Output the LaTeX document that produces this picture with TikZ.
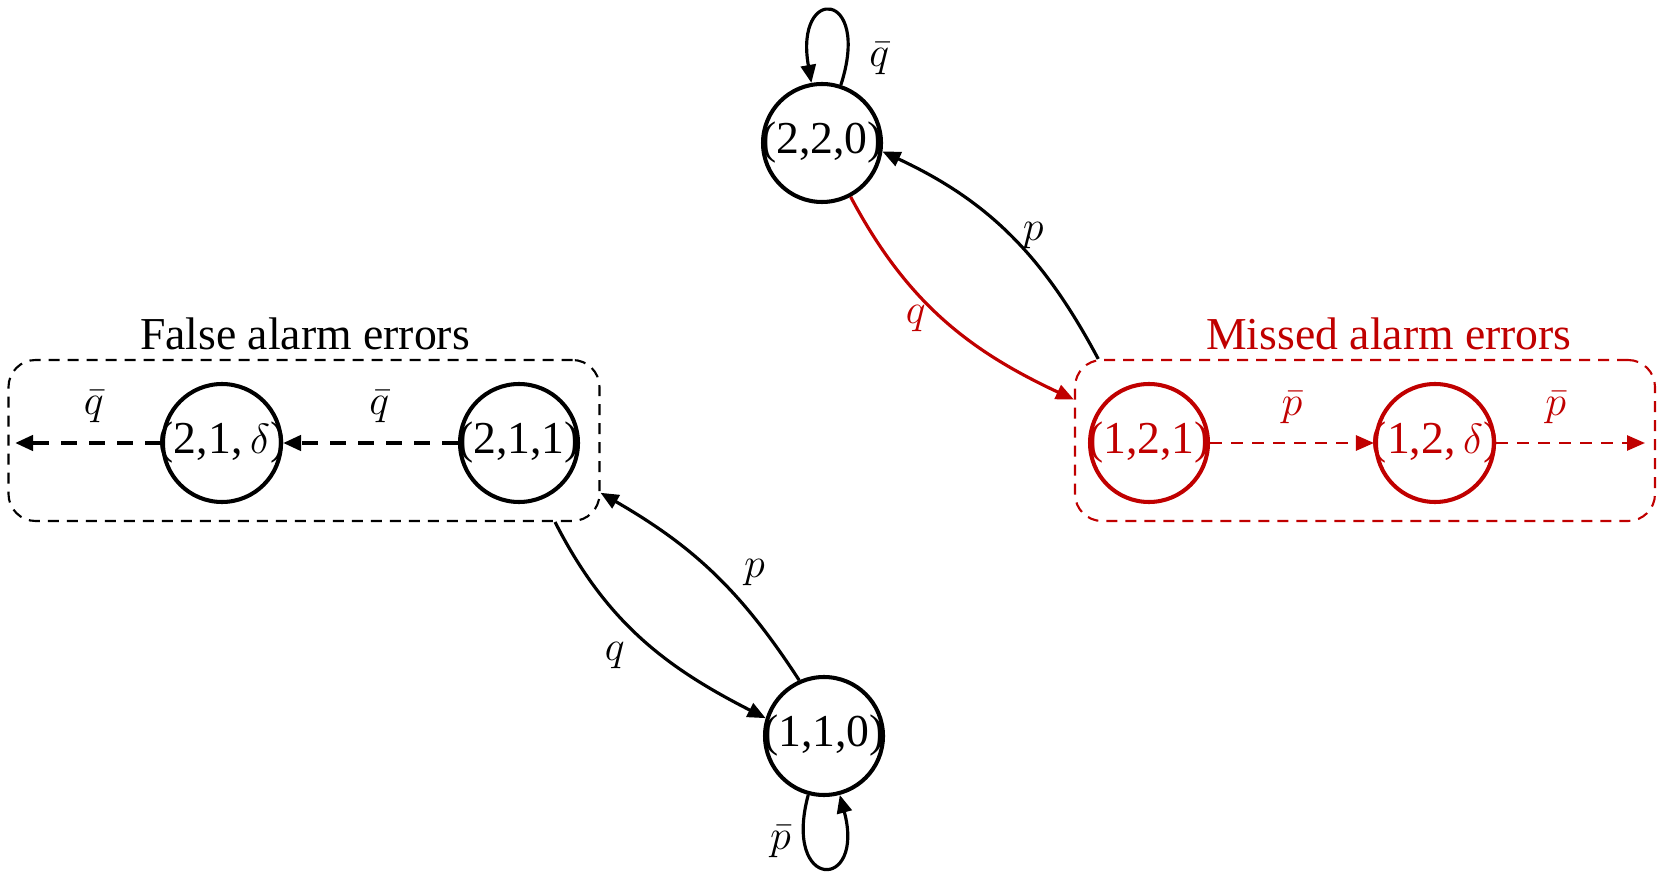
\documentclass[tikz,border=0pt]{standalone}
\usepackage{fontspec}
\setmainfont{Liberation Serif}
\usepackage{tikz}
\usepackage{xcolor}
\usetikzlibrary{positioning}
\usetikzlibrary{arrows.meta}
\definecolor{alarmred}{RGB}{192,0,0}
\newcommand{\stxt}[1]{\makebox[0pt]{#1}}
\tikzset{state/.style={circle, draw, line width=1.15pt, minimum size=11.8mm, inner sep=0pt,
font=\fontsize{13}{15}\selectfont},
errbox/.style={draw, rounded corners=2.7mm, line width=0.6pt, dash pattern=on 1.1mm off 0.8mm,
inner sep=0pt, minimum height=16.1mm}}

\begin{document}
\begin{tikzpicture}[x=0.1mm, y=0.1mm, >={Triangle[length=1.8mm,width=1.5mm]},
	lbl/.style={font=\fontsize{12.5}{15}\selectfont},
	ttl/.style={font=\fontsize{13}{15}\selectfont},
	trans/.style={->, line width=0.9pt},
	skip/.style={->, line width=1.2pt, dash pattern=on 1.6mm off 1.2mm},
	redskip/.style={->, alarmred, line width=0.75pt, dash pattern=on 1.2mm off 0.9mm}]
					\useasboundingbox (0,0) rectangle (1661,885);
					\node[errbox, minimum width=59.1mm] (fbox) at (304,444.5) {};
					\node[errbox, alarmred, minimum width=58mm] (mbox) at (1365,444.5) {};
					\node[ttl] (ftitle) at (305,551) {False alarm errors};
					\node[ttl, alarmred] (mtitle) at (1389,551) {Missed alarm errors};
					\node[state] (n220) at (822,742) {\stxt{(2,2,0)}};
					\node[state] (n110) at (824,149) {\stxt{(1,1,0)}};
					\node[state] (n211) at (519,442) {\stxt{(2,1,1)}};
					\node[state] (n21d) at (222,442) {\stxt{(2,1,\,$\delta$)}};
					\node[state, alarmred] (n121) at (1149,442) {\stxt{(1,2,1)}};
					\node[state, alarmred] (n12d) at (1435,442) {\stxt{(1,2,\,$\delta$)}};
					\coordinate (fend) at (15,442);
					\coordinate (mend) at (1645,442);
					\draw[trans] (n220) to[out=72, in=100, distance=10mm] node[lbl, right=0.9mm, pos=0.1] {$\bar{q}$} (n220);
					\draw[trans] (n110) to[out=255, in=285, distance=10mm] node[lbl, left, pos=0.2] {$\bar{p}$} (n110);
					\draw[trans] (mbox.163) to[out=118, in=-25] node[lbl, right, pos=0.5] {$p$} (n220.352);
					\draw[trans, alarmred] (n220) to[out=-62, in=155] node[lbl, left=0.4mm] {$q$} (mbox.172);
					\draw[trans] (fbox.342) to[out=-63, in=153] node[lbl, left=2.5mm, pos=0.6] {$q$} (n110.163);
					\draw[trans] (n110.114) to[out=123, in=-30] node[lbl, right=1.8mm] {$p$} (fbox.350);
					\draw[skip] (n211) -- node[lbl, above=0.6mm, pos=0.45] {$\bar{q}$} (n21d);
					\draw[skip] (n21d) -- node[lbl, above=0.6mm, pos=0.46] {$\bar{q}$} (fend);
					\draw[redskip] (n121) -- node[lbl, above=0.6mm] {$\bar{p}$} (n12d);
					\draw[redskip] (n12d) -- node[lbl, above=0.6mm, pos=0.4] {$\bar{p}$} (mend);
			\end{tikzpicture}
\end{document}
